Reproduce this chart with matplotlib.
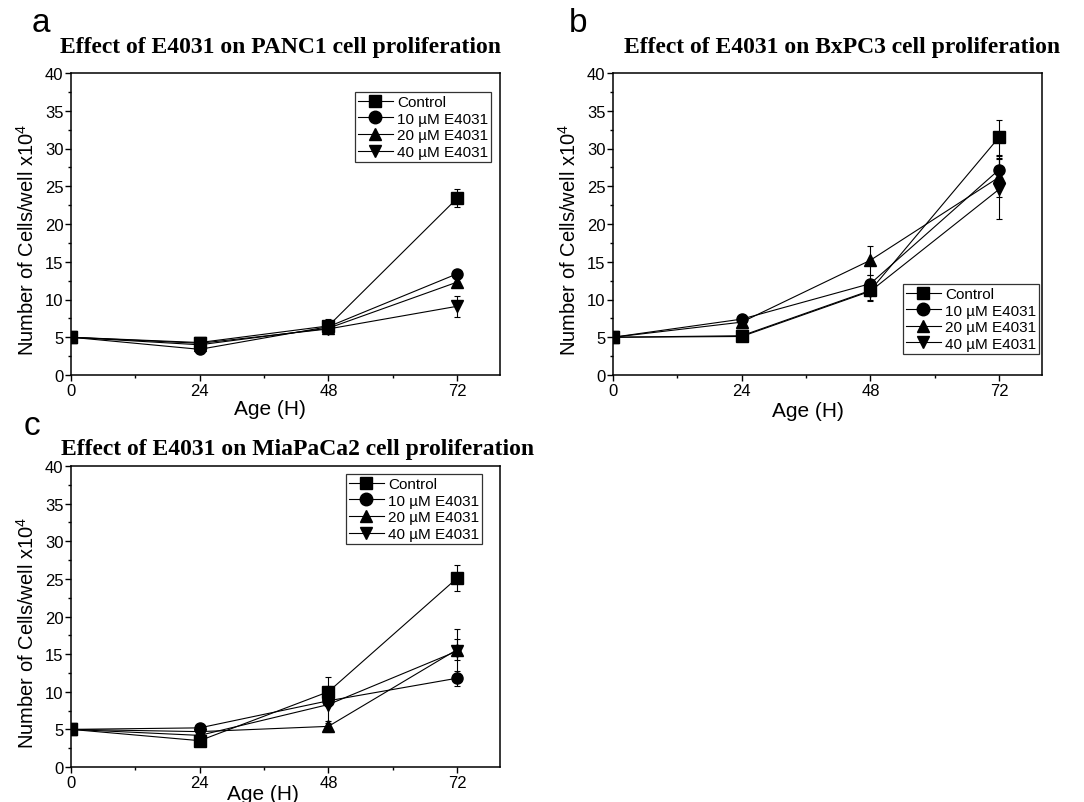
import numpy as np
import matplotlib
matplotlib.use("Agg")
import matplotlib.pyplot as plt
from matplotlib.ticker import MultipleLocator
from matplotlib.lines import Line2D

plt.rcParams['font.family'] = ['Liberation Sans', 'DejaVu Sans']
plt.rcParams['mathtext.default'] = 'regular'

hours = [0, 24, 48, 72]
labels = ["Control", "10 \u00b5M E4031", "20 \u00b5M E4031", "40 \u00b5M E4031"]
markers = ["s", "o", "^", "v"]

# panel a - PANC1
panc1_mean = [[5.0, 4.3, 6.5, 23.4],
              [5.0, 3.4, 6.4, 13.4],
              [5.0, 4.0, 6.2, 12.3],
              [5.0, 4.2, 6.1, 9.1]]
panc1_err = [[0.2, 0.3, 0.9, 1.2],
             [0.2, 0.3, 0.4, 0.5],
             [0.2, 0.3, 0.4, 0.6],
             [0.2, 0.3, 0.3, 1.4]]

# panel b - BxPC3
bxpc3_mean = [[5.0, 5.2, 11.2, 31.5],
              [5.0, 7.4, 12.1, 27.2],
              [5.0, 7.0, 15.2, 26.2],
              [5.0, 5.1, 11.1, 24.6]]
bxpc3_err = [[0.2, 0.5, 1.3, 2.3],
             [0.2, 0.3, 1.1, 1.8],
             [0.2, 0.3, 1.9, 2.6],
             [0.2, 0.5, 1.3, 4.0]]

# panel c - MiaPaCa2
mia_mean = [[5.0, 3.5, 10.0, 25.1],
            [5.0, 5.2, 8.8, 11.8],
            [5.0, 4.7, 5.4, 15.6],
            [5.0, 4.2, 8.3, 15.4]]
mia_err = [[0.2, 0.3, 1.9, 1.7],
           [0.2, 0.3, 0.5, 1.0],
           [0.2, 0.3, 0.7, 1.4],
           [0.2, 0.3, 2.5, 3.0]]

titles = ["Effect of E4031 on PANC1 cell proliferation",
          "Effect of E4031 on BxPC3 cell proliferation",
          "Effect of E4031 on MiaPaCa2 cell proliferation"]

fig = plt.figure(figsize=(10.84, 8.03), dpi=100)
W, H = 1084.0, 803.0

def px_axes(l, t, r, b):
    return fig.add_axes([l / W, 1 - b / H, (r - l) / W, (b - t) / H])

def panel(ax, means, errs, title, leg_loc, leg_anchor, title_xy, letter_xy, letter,
          xlab_xy):
    for m, e, mk in zip(means, errs, markers):
        ax.errorbar(hours, m, yerr=e, color='black', lw=0.8, marker=mk, ms=8,
                    elinewidth=0.8, capsize=2.5, capthick=0.8)
    ax.set_xlim(0, 80)
    ax.set_ylim(0, 40)
    ax.xaxis.set_major_locator(MultipleLocator(24))
    ax.xaxis.set_minor_locator(MultipleLocator(12))
    ax.yaxis.set_major_locator(MultipleLocator(5))
    ax.yaxis.set_minor_locator(MultipleLocator(2.5))
    ax.tick_params(which='both', direction='out', top=False, right=False,
                   labelsize=12, width=1)
    ax.tick_params(which='major', length=4, pad=1.5)
    ax.tick_params(which='minor', length=2.5)
    for s in ax.spines.values():
        s.set_linewidth(1.1)
    ax.set_xlabel("Age (H)", fontsize=15)
    ax.set_ylabel("Number of Cells/well x10$^4$", fontsize=14.5)
    ax.xaxis.set_label_coords(*xlab_xy)
    ax.yaxis.set_label_coords(-0.078, 0.45)
    handles = [Line2D([], [], color='black', lw=0.8, marker=mk, ms=9)
               for mk in markers]
    leg = ax.legend(handles, labels, loc=leg_loc, bbox_to_anchor=leg_anchor,
                    fontsize=11, frameon=True, fancybox=False, edgecolor='black',
                    handlelength=2.3, handletextpad=0.25, borderpad=0.2,
                    labelspacing=0.17, borderaxespad=0)
    leg.get_frame().set_linewidth(0.9)
    fig.text(title_xy[0] / W, 1 - title_xy[1] / H, title, ha='center', va='center',
             fontsize=17, fontweight='bold', family='Liberation Serif')
    fig.text(letter_xy[0] / W, 1 - letter_xy[1] / H, letter, ha='left',
             va='baseline', fontsize=24)

ax_a = px_axes(71, 74, 500, 376)
panel(ax_a, panc1_mean, panc1_err, titles[0], 'upper right', (0.979, 0.937),
      (281, 48), (32, 32), 'a', (0.464, -0.079))

ax_b = px_axes(613, 74, 1042, 376)
panel(ax_b, bxpc3_mean, bxpc3_err, titles[1], 'lower right', (0.993, 0.07),
      (842, 48), (569, 32), 'b', (0.455, -0.085))

ax_c = px_axes(71, 467, 500, 768)
panel(ax_c, mia_mean, mia_err, titles[2], 'upper right', (0.958, 0.973),
      (298, 450), (24, 435), 'c', (0.448, -0.058))

fig.savefig("out.png", dpi=100)
